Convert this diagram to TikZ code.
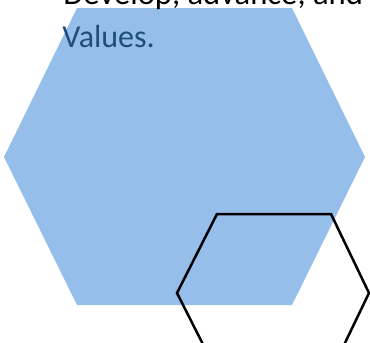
\documentclass[tikz,border=0pt]{standalone}
\usepackage{fontspec}
\setmainfont{Carlito}
\definecolor{hexblue}{HTML}{95BFEA}
\definecolor{textblue}{HTML}{1F4E79}
\begin{document}
\begin{tikzpicture}[x=1pt, y=-1pt, thick]

  % -- Page frame --
  \clip (0, 0) rectangle (370, 343);
  \useasboundingbox (0, 0) rectangle (370, 343);

  % -- Filled hexagon (back) --
  \fill[hexblue] (77, 8) -- (292, 8) -- (365, 157) -- (292, 305) -- (77, 305) -- (4, 157) -- cycle;

  % -- Text lines --
  \node[anchor=base west, inner sep=0pt, font=\fontsize{32}{38}\selectfont, xscale=1.02] (lineone) at (63, 4) {Develop, advance, and};
  \node[anchor=base west, inner sep=0pt, font=\fontsize{32}{38}\selectfont, text=textblue] (linetwo) at (62, 47.5) {Values.};

  % -- Outlined hexagon (front) --
  \draw[line width=2.5pt, line join=miter] (217, 214) -- (331, 214) -- (369, 293) -- (331, 372) -- (217, 372) -- (177, 293) -- cycle;

\end{tikzpicture}
\end{document}
